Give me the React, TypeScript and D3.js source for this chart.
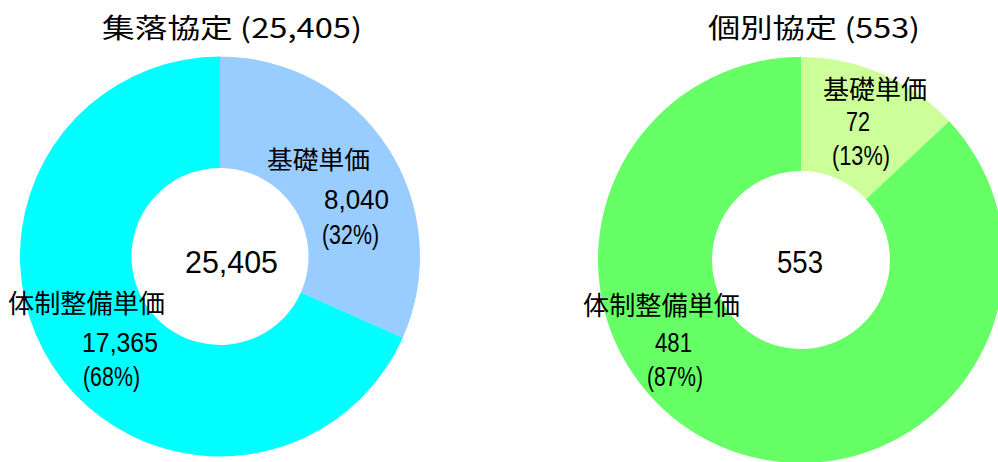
import React from "react";
import * as d3 from "d3";

// ---- data ----
const categories = ["基礎単価", "体制整備単価"];
const shurakuValues = [8040, 17365];
const kobetsuValues = [72, 481];
const chartTitles = ["集落協定", "個別協定"];

// ---- layout / style (not data) ----
const W = 998;
const H = 462;
const CJK = "'Noto Sans CJK JP', 'Noto Sans', sans-serif";
const NUM = "'Liberation Sans', 'Noto Sans', sans-serif";

type LabelPos = { x: number; y: number; len: number; size: number };
type ChartLayout = {
  cx: number;
  cy: number;
  r: number;
  ir: number;
  colors: string[];
  title: LabelPos;
  center: LabelPos;
  labels: { name: LabelPos; value: LabelPos; pct: LabelPos }[];
};

const layouts: ChartLayout[] = [
  {
    cx: 220,
    cy: 256.5,
    r: 200,
    ir: 88.5,
    colors: ["#99CCFF", "#00FFFF"],
    title: { x: 102, y: 38, len: 260, size: 27 },
    center: { x: 185, y: 273, len: 93, size: 31 },
    labels: [
      {
        name: { x: 267, y: 169, len: 103, size: 25 },
        value: { x: 324, y: 209, len: 65, size: 28 },
        pct: { x: 322, y: 244, len: 57, size: 28 },
      },
      {
        name: { x: 8, y: 313, len: 157, size: 26 },
        value: { x: 82, y: 352, len: 76, size: 27 },
        pct: { x: 83, y: 386, len: 57, size: 27 },
      },
    ],
  },
  {
    cx: 801,
    cy: 260,
    r: 203,
    ir: 89,
    colors: ["#CCFF99", "#66FF66"],
    title: { x: 708, y: 38, len: 212, size: 27 },
    center: { x: 777, y: 273, len: 46, size: 31 },
    labels: [
      {
        name: { x: 823, y: 99, len: 104, size: 26 },
        value: { x: 846, y: 131, len: 24, size: 27 },
        pct: { x: 832, y: 165, len: 58, size: 27 },
      },
      {
        name: { x: 583, y: 315, len: 157, size: 26 },
        value: { x: 655, y: 352, len: 37, size: 27 },
        pct: { x: 647, y: 386, len: 56, size: 27 },
      },
    ],
  },
];

const fmt = d3.format(",");

function T({ p, font, children }: { p: LabelPos; font: string; children: React.ReactNode }) {
  return (
    <text
      x={p.x}
      y={p.y}
      fontSize={p.size}
      textLength={p.len}
      lengthAdjust="spacingAndGlyphs"
      fontFamily={font}
      fill="#000"
    >
      {children}
    </text>
  );
}

function Donut({ values, title, layout }: { values: number[]; title: string; layout: ChartLayout }) {
  const total = d3.sum(values);
  const pie = d3
    .pie<number>()
    .sort(null)
    .value((d) => d)
    .startAngle(0)
    .endAngle(2 * Math.PI);
  const arcs = pie(values);
  const arc = d3
    .arc<d3.PieArcDatum<number>>()
    .innerRadius(layout.ir)
    .outerRadius(layout.r);
  return (
    <g>
      <g transform={`translate(${layout.cx},${layout.cy})`}>
        {arcs.map((a, i) => (
          <path key={i} d={arc(a) || ""} fill={layout.colors[i]} />
        ))}
      </g>
      <T p={layout.title} font={CJK}>{`${title} (${fmt(total)})`}</T>
      <T p={layout.center} font={NUM}>{fmt(total)}</T>
      {arcs.map((a, i) => (
        <g key={"l" + i}>
          <T p={layout.labels[i].name} font={CJK}>{categories[i]}</T>
          <T p={layout.labels[i].value} font={NUM}>{fmt(values[i])}</T>
          <T p={layout.labels[i].pct} font={NUM}>{`(${Math.round((values[i] / total) * 100)}%)`}</T>
        </g>
      ))}
    </g>
  );
}

export default function App() {
  return (
    <svg
      width={W}
      height={H}
      viewBox={`0 0 ${W} ${H}`}
      style={{ position: "absolute", left: 0, top: 0, background: "#fff" }}
    >
      <rect width={W} height={H} fill="#fff" />
      <Donut values={shurakuValues} title={chartTitles[0]} layout={layouts[0]} />
      <Donut values={kobetsuValues} title={chartTitles[1]} layout={layouts[1]} />
    </svg>
  );
}
